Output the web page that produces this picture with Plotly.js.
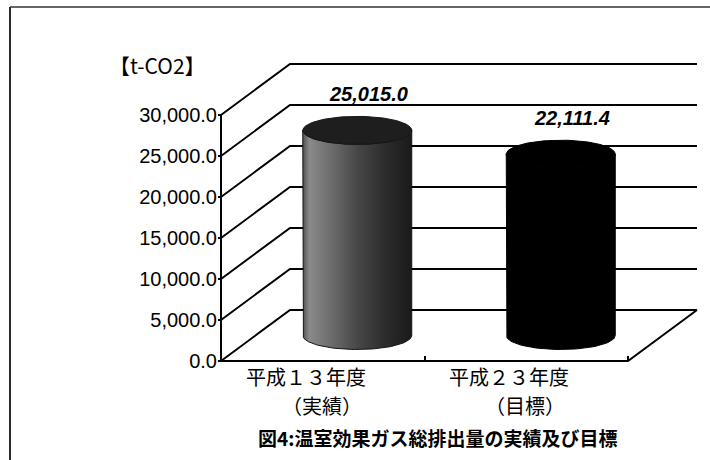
<!DOCTYPE html>
<html><head><meta charset="utf-8">
<script src="https://cdn.plot.ly/plotly-3.0.1.min.js"></script>
<style>html,body{margin:0;padding:0;background:#fff}</style>
</head><body><div id="chart" style="width:710px;height:460px"></div>
<script>
// ---- data ----
const categories = ["平成１３年度", "平成２３年度"];
const categorySubLabels = ["（実績）", "（目標）"];
const values = [25015.0, 22111.4];
const yTickValues = [0, 5000, 10000, 15000, 20000, 25000, 30000];
const unitLabel = "【t-CO2】";
const caption = "図4:温室効果ガス総排出量の実績及び目標";

// ---- geometry / style (pixel layout of the pseudo-3D box) ----
const W = 710, H = 460;
const L = 214, R = 700, T = 58, B = 366;          // plot area in pixels
const x0px = 221, y0px = 361;                     // front-left-bottom corner
const pxPerCat = 203.5, pxPerVal = 246 / 30000;
const depthX = 69 / pxPerCat, depthY = 51 / pxPerVal;
const xr = [-0.5 - (x0px - L) / pxPerCat, -0.5 + (R - x0px) / pxPerCat];
const yr = [-(B - y0px) / pxPerVal, (y0px - T) / pxPerVal];
const yMax = yTickValues[yTickValues.length - 1];
const nCat = categories.length;
const rX = 54.5 / pxPerCat, rY = 14 / pxPerVal;
const bodyGradients = [
  [[0, '#505050'], [0.06, '#8a8a8a'], [0.25, '#6e6e6e'], [0.5, '#474747'], [0.78, '#2a2a2a'], [1, '#1a1a1a']],
  [[0, '#000'], [1, '#000']]
];
const topColors = ['#1e1e1e', '#000000'];
const edgeColors = ['#151515', '#000000'];
const paperY = py => (B - py) / (B - T);
const paperX = px => (px - L) / (R - L);
const cjkFont = 'Noto Sans CJK JP, sans-serif';

const traces = [];

// back wall gridlines with the diagonal side-wall lines
const gx = [], gy = [];
yTickValues.forEach(v => {
  gx.push(-0.5, -0.5 + depthX, nCat - 0.5 + depthX, null);
  gy.push(v, v + depthY, v + depthY, null);
});
traces.push({x: gx, y: gy, mode: 'lines', line: {color: '#000', width: 2}, hoverinfo: 'skip', showlegend: false});

// floor front and right edges
traces.push({x: [-0.5, nCat - 0.5, nCat - 0.5 + depthX], y: [0, 0, depthY], mode: 'lines',
  line: {color: '#000', width: 2}, hoverinfo: 'skip', showlegend: false});
// value axis line
traces.push({x: [-0.5, -0.5], y: [0, yMax], mode: 'lines', line: {color: '#000', width: 2}, hoverinfo: 'skip', showlegend: false});

// cylinders
const N = 60;
values.forEach((v, i) => {
  const cx = i + depthX / 2, by = depthY / 2, ty = v + depthY / 2;
  const bx = [], byy = [];
  bx.push(cx - rX); byy.push(ty);
  for (let k = 0; k <= N; k++) { const t = Math.PI + Math.PI * k / N; bx.push(cx + rX * Math.cos(t)); byy.push(by + rY * Math.sin(t)); }
  for (let k = 0; k <= N; k++) { const t = 2 * Math.PI - Math.PI * k / N; bx.push(cx + rX * Math.cos(t)); byy.push(ty + rY * Math.sin(t)); }
  traces.push({x: bx, y: byy, mode: 'lines', fill: 'toself', fillgradient: {type: 'horizontal', colorscale: bodyGradients[i]},
    line: {color: edgeColors[i], width: 1}, hoverinfo: 'skip', showlegend: false});
  const ex = [], ey = [];
  for (let k = 0; k <= 2 * N; k++) { const t = 2 * Math.PI * k / (2 * N); ex.push(cx + rX * Math.cos(t)); ey.push(ty + rY * Math.sin(t)); }
  traces.push({x: ex, y: ey, mode: 'lines', fill: 'toself', fillcolor: topColors[i],
    line: {color: edgeColors[i], width: 1}, hoverinfo: 'skip', showlegend: false});
});

// dummy trace for the boundary tick axis
traces.push({x: [0], y: [0], xaxis: 'x2', yaxis: 'y', mode: 'markers', marker: {opacity: 0}, hoverinfo: 'skip', showlegend: false});

const fmt = v => v.toLocaleString('en-US', {minimumFractionDigits: 1, maximumFractionDigits: 1});
const annotations = values.map((v, i) => ({
  x: i + depthX / 2, y: v + depthY / 2, xref: 'x', yref: 'y', text: fmt(v), showarrow: false,
  xshift: 11, yshift: 36, yanchor: 'middle',
  font: {family: 'Liberation Sans, Arial, sans-serif', size: 20, weight: 'bold', style: 'italic', color: '#000'}
}));
// category labels (two lines each)
categories.forEach((c, i) => {
  annotations.push({x: i, y: paperY(376), xref: 'x', yref: 'paper', text: c, showarrow: false,
    xanchor: 'center', yanchor: 'middle', xshift: -17, font: {family: cjkFont, size: 20, color: '#000'}});
  annotations.push({x: i, y: paperY(405), xref: 'x', yref: 'paper', text: categorySubLabels[i], showarrow: false,
    xanchor: 'center', yanchor: 'middle', xshift: -1, font: {family: cjkFont, size: 20, color: '#000'}});
});
annotations.push({x: paperX(157), y: paperY(65), xref: 'paper', yref: 'paper', text: unitLabel,
  showarrow: false, xanchor: 'center', yanchor: 'middle',
  font: {family: cjkFont, size: 21, color: '#000'}});
annotations.push({x: paperX(437), y: paperY(437), xref: 'paper', yref: 'paper', text: caption,
  showarrow: false, xanchor: 'center', yanchor: 'middle',
  font: {family: cjkFont, size: 19, weight: 'bold', color: '#000'}});

const layout = {
  width: W, height: H,
  margin: {l: L, r: W - R, t: T, b: H - B, pad: 0},
  paper_bgcolor: '#fff', plot_bgcolor: 'rgba(0,0,0,0)',
  showlegend: false,
  xaxis: {range: xr, anchor: 'free', position: paperY(y0px), showticklabels: false,
    ticks: '', showgrid: false, zeroline: false, showline: false},
  xaxis2: {range: xr, overlaying: 'x', anchor: 'free', position: paperY(y0px),
    tickvals: [-0.5, 0.5, 1.5], ticks: 'inside', ticklen: 5, tickwidth: 2, tickcolor: '#000',
    showticklabels: false, showgrid: false, zeroline: false, showline: false},
  yaxis: {range: yr, anchor: 'free', position: paperX(x0px), tickvals: yTickValues, tickformat: ',.1f',
    ticks: 'outside', ticklen: 3, tickwidth: 1.5, tickcolor: '#000', showgrid: false, zeroline: false, showline: false,
    ticklabelstandoff: -3,
    tickfont: {family: 'Liberation Sans, Arial, sans-serif', size: 20, color: '#000'}},
  annotations: annotations,
  shapes: [
    {type: 'line', xref: 'paper', yref: 'paper', x0: paperX(10), x1: paperX(10), y0: paperY(7), y1: paperY(465), line: {color: '#2a2a2a', width: 2}},
    {type: 'line', xref: 'paper', yref: 'paper', x0: paperX(10), x1: paperX(715), y0: paperY(7), y1: paperY(7), line: {color: '#333', width: 1.5}}
  ]
};
Plotly.newPlot('chart', traces, layout, {staticPlot: true, displayModeBar: false});
</script></body></html>
